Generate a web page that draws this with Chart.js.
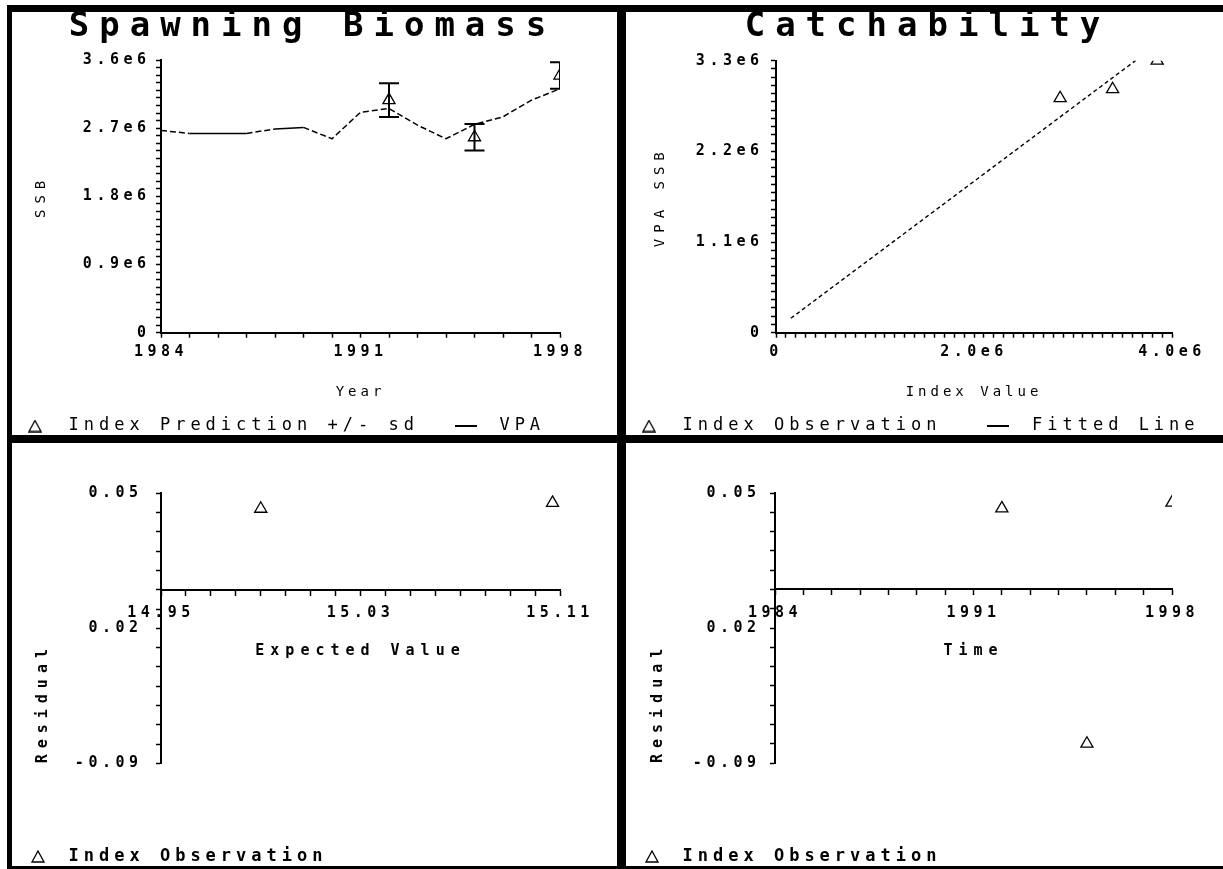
<!DOCTYPE html>
<html><head><meta charset="utf-8">
<script src="https://cdn.jsdelivr.net/npm/chart.js@4.4.1/dist/chart.umd.min.js"></script>
<style>
html,body{margin:0;padding:0;background:#fff;}
body{width:1223px;height:869px;position:relative;overflow:hidden;}
.bar{position:absolute;background:#000;}
canvas{position:absolute;}
</style></head><body>
<div class="bar" style="left:7px;top:5px;width:1216px;height:7px"></div>
<div class="bar" style="left:7px;top:5px;width:5px;height:864px"></div>
<div class="bar" style="left:617px;top:5px;width:9px;height:864px"></div>
<div class="bar" style="left:7px;top:435px;width:1216px;height:8px"></div>
<div class="bar" style="left:7px;top:866px;width:1216px;height:3px"></div>
<canvas id="cSSB" width="605" height="423" style="left:12px;top:12px"></canvas>
<canvas id="cQ" width="597" height="423" style="left:626px;top:12px"></canvas>
<canvas id="cResE" width="605" height="423" style="left:12px;top:443px"></canvas>
<canvas id="cResT" width="597" height="423" style="left:626px;top:443px"></canvas>
<script>
// ===== Data: Spawning Biomass =====
const ssbYears = [1984, 1985, 1986, 1987, 1988, 1989, 1990, 1991, 1992, 1993, 1994, 1995, 1996, 1997, 1998];
const ssbVPA = [2.67e6, 2.63e6, 2.63e6, 2.63e6, 2.69e6, 2.71e6, 2.56e6, 2.91e6, 2.96e6, 2.74e6, 2.56e6, 2.75e6, 2.85e6, 3.07e6, 3.22e6];
const indexYears = [1992, 1995, 1998];
const indexPrediction = [3.07e6, 2.58e6, 3.395e6];
const indexSd = [0.224e6, 0.176e6, 0.175e6];
const ssbYTicks = [0, 0.9e6, 1.8e6, 2.7e6, 3.6e6];
const ssbYTickLabels = ['0', '0.9e6', '1.8e6', '2.7e6', '3.6e6'];
const yearTicks = [1984, 1991, 1998];
const yearTickLabels = ['1984', '1991', '1998'];

// ===== Data: Catchability =====
const obsIndexValue = [2.87e6, 3.40e6, 3.85e6];
const obsVpaSSB = [2.845e6, 2.954e6, 3.30e6];
const fittedIndexValue = [0.15e6, 3.7e6];
const fittedVpaSSB = [0.175e6, 3.363e6];
const qXTicks = [0, 2.0e6, 4.0e6];
const qXTickLabels = ['0', '2.0e6', '4.0e6'];
const qYTicks = [0, 1.1e6, 2.2e6, 3.3e6];
const qYTickLabels = ['0', '1.1e6', '2.2e6', '3.3e6'];

// ===== Data: Residuals =====
const expectedValue = [14.99, 15.107];
const residualVsExpected = [0.042, 0.045];
const residualYears = [1992, 1995, 1998];
const residualVsTime = [0.042, -0.080, 0.045];
const expTicks = [14.95, 15.03, 15.11];
const expTickLabels = ['14.95', '15.03', '15.11'];
const residTicks = [0.05, -0.02, -0.09];
const residTickLabels = ['0.05', '0.02', '-0.09'];

// ===== Style / helpers =====
const FONT = '"DejaVu Sans Mono", "Liberation Mono", monospace';
Chart.defaults.color = '#000';
Chart.defaults.font.family = FONT;
const TICK_FONT = {family: FONT, size: 15, weight: 'bold', lineHeight: 1.2};
const LEG_FS = 17;

function minorTicks(majors, step) {
  const a = Math.min(...majors), b = Math.max(...majors);
  const n = Math.round((b - a) / step);
  const out = [];
  for (let i = 0; i <= n; i++) out.push(a + i * step);
  return out;
}
function labeler(majors, labels, step) {
  return v => {
    const k = majors.findIndex(m => Math.abs(m - v) < step / 100);
    return k < 0 ? '' : labels[k];
  };
}
function makeSymbol(kind) {
  const c = document.createElement('canvas');
  if (kind === 'tri') { c.width = 14; c.height = 13; } else { c.width = 22; c.height = 4; }
  const ctx = c.getContext('2d');
  ctx.strokeStyle = '#000'; ctx.fillStyle = '#000'; ctx.lineWidth = 1.3;
  if (kind === 'tri') {
    ctx.beginPath(); ctx.moveTo(7, 1); ctx.lineTo(13, 12); ctx.lineTo(1, 12); ctx.closePath(); ctx.stroke();
  } else {
    ctx.fillRect(0, 1, 22, 2);
  }
  return c;
}
const SYM = {tri: makeSymbol('tri'), line: makeSymbol('line')};

const LS = {
  cSSB: {tick: '4.5px', title: '10px', legend: '5px', axis: {x: '4px', y: '6px'}},
  cQ: {tick: '4.5px', title: '10px', legend: '5px', axis: {x: '4px', y: '6px'}},
  cResE: {tick: '4.5px', title: '0px', legend: '5px', axis: {x: '6px', y: '6px'}},
  cResT: {tick: '4.5px', title: '0px', legend: '5px', axis: {x: '6px', y: '6px'}}
};
function withLS(obj, name, ls) {
  if (!obj || !ls || obj['_ls_' + name]) return;
  const orig = obj[name];
  obj[name] = function () {
    const ctx = this.ctx;
    const prev = ctx.letterSpacing;
    ctx.letterSpacing = ls;
    try { return orig.apply(this, arguments); } finally { ctx.letterSpacing = prev; }
  };
  obj['_ls_' + name] = true;
}
const spacingPlugin = {
  id: 'spacing',
  afterInit(chart) {
    const s = LS[chart.canvas.id];
    withLS(chart.titleBlock, 'draw', s.title);
    withLS(chart.legend, 'fit', s.legend);
    withLS(chart.legend, 'draw', s.legend);
  },
  beforeUpdate(chart) { chart.ctx.letterSpacing = LS[chart.canvas.id].tick; },
  afterLayout(chart) {
    const s = LS[chart.canvas.id];
    for (const id in chart.scales) withLS(chart.scales[id], 'drawTitle', s.axis[id]);
  },
  beforeDraw(chart) { chart.ctx.letterSpacing = LS[chart.canvas.id].tick; }
};

const triPoint = {pointStyle: 'triangle', pointRadius: 7, pointBackgroundColor: 'rgba(0,0,0,0)',
  pointBorderColor: '#000', pointBorderWidth: 1.3, showLine: false, borderColor: '#000'};

function legendLabels(chart) {
  return chart.data.datasets.map((ds, i) => ds.legendSymbol ? {
    text: ds.label, pointStyle: SYM[ds.legendSymbol], datasetIndex: i, hidden: false,
    fillStyle: '#000', strokeStyle: '#000', lineWidth: 1, fontColor: '#000'
  } : null).filter(Boolean);
}

function buildChart(id, g, spec) {
  const W = g.w, H = g.h;
  const L = g.L - g.ox, R = g.R - g.ox, T = g.T - g.oy, B = g.B - g.oy;
  const FS = LEG_FS;
  const legBottom = (g.legY - g.oy) + 10 + FS / 2;
  let P, legTop;
  if (g.objX) { legTop = B; P = legBottom - legTop - FS - 10; }
  else { P = g.legP; legTop = legBottom - FS - P - 10; }
  const PL = (g.legSym - g.ox) - P - g.legBW / 2;
  const PR = g.PR;
  const PB = H - legBottom;
  const titleLH = 34;
  const PT = g.title ? 0 : T;
  const titlePadTop = g.title ? (g.titleY - g.oy) - titleLH / 2 : 0;
  const titlePadBottom = g.title ? T - titleLH - titlePadTop : 0;
  const yW = L - PL;
  const rW = W - PR - R;
  const axisLH = spec.axisFont.size * 1.2;
  const yTitlePadTop = (g.yTitleX - g.ox) - PL - axisLH / 2;
  const xMin = Math.min(...spec.x.major), xMax = Math.max(...spec.x.major);
  const yMin = Math.min(...spec.y.major), yMax = Math.max(...spec.y.major);
  let xH, xTitlePadBottom;
  if (g.objX) {
    const pix0 = T + (yMax - 0) / (yMax - yMin) * (B - T);
    xH = 0;
    xTitlePadBottom = pix0 - axisLH / 2 - (g.xTitleY - g.oy);
  } else {
    xH = legTop - B;
    xTitlePadBottom = legTop - axisLH / 2 - (g.xTitleY - g.oy);
  }
  const xTickVals = minorTicks(spec.x.major, spec.x.step);
  const yTickVals = minorTicks(spec.y.major, spec.y.step);
  const grid = {display: true, drawOnChartArea: false, drawTicks: true, tickLength: 5, tickColor: '#000', tickWidth: 1.5};
  const border = {display: true, color: '#000', width: 2};

  return new Chart(document.getElementById(id), {
    type: 'line',
    data: {datasets: spec.datasets},
    plugins: [spacingPlugin],
    options: {
      responsive: false, animation: false, events: [],
      layout: {padding: {left: PL, right: PR, top: PT, bottom: PB}},
      plugins: {
        tooltip: {enabled: false},
        title: {display: !!g.title, text: g.title || '', color: '#000',
          font: {family: FONT, size: 34, weight: 'bold', lineHeight: 1},
          padding: {top: titlePadTop, bottom: titlePadBottom}},
        legend: {display: true, position: 'bottom', align: 'start', fullSize: true,
          labels: {usePointStyle: true, pointStyleWidth: g.legBW, padding: P, color: '#000',
            font: {family: FONT, size: FS, weight: spec.legendWeight},
            generateLabels: legendLabels}}
      },
      scales: {
        x: {
          type: 'linear', min: xMin, max: xMax,
          position: g.objX ? {y: 0} : 'bottom',
          afterBuildTicks: s => { s.ticks = xTickVals.map(v => ({value: v})); },
          afterFit: s => { s.height = xH; s.paddingLeft = 0; s.paddingRight = 0; },
          ticks: {autoSkip: false, maxRotation: 0, minRotation: 0, padding: g.xTickPad, color: '#000',
            font: TICK_FONT, callback: labeler(spec.x.major, spec.x.labels, spec.x.step)},
          grid, border,
          title: {display: true, text: spec.x.title, color: '#000', font: spec.axisFont,
            padding: {top: 0, bottom: xTitlePadBottom}}
        },
        y: {
          type: 'linear', min: yMin, max: yMax, position: 'left',
          afterBuildTicks: s => { s.ticks = yTickVals.map(v => ({value: v})); },
          afterFit: s => { s.width = yW; s.paddingTop = 0; s.paddingBottom = 0; },
          ticks: {autoSkip: false, padding: g.yTickPad, color: '#000', font: TICK_FONT,
            callback: labeler(spec.y.major, spec.y.labels, spec.y.step)},
          grid, border,
          title: {display: true, text: spec.y.title, color: '#000', font: spec.axisFont,
            align: g.yTitleAlign || 'center', padding: {top: yTitlePadTop, bottom: 0}}
        },
        yr: {
          type: 'linear', position: 'right', display: true,
          grid: {display: false, drawTicks: false}, border: {display: false}, ticks: {display: false},
          afterFit: s => { s.width = rW; s.paddingTop = 0; s.paddingBottom = 0; }
        }
      }
    }
  });
}

const topAxisFont = {family: FONT, size: 14, weight: 'normal', lineHeight: 1.2};
const botAxisFont = {family: FONT, size: 15, weight: 'bold', lineHeight: 1.2};

// ---- Panel 1: Spawning Biomass ----
buildChart('cSSB',
  {ox: 12, oy: 12, w: 605, h: 423, L: 161, R: 560, T: 60, B: 332.7, title: 'Spawning Biomass', titleY: 27,
   legSym: 35, legY: 426, legBW: 50, legP: 22, PR: -20, xTitleY: 392, yTitleX: 41, xTickPad: 5.8, yTickPad: 5.5},
  {
    axisFont: topAxisFont, legendWeight: 'normal',
    x: {major: yearTicks, labels: yearTickLabels, step: 1, title: 'Year'},
    y: {major: ssbYTicks, labels: ssbYTickLabels, step: 0.1e6, title: 'SSB'},
    datasets: [
      Object.assign({label: 'Index Prediction +/- sd', legendSymbol: 'tri', yAxisID: 'y',
        data: indexYears.map((x, i) => ({x, y: indexPrediction[i]}))}, triPoint),
      {label: 'VPA', legendSymbol: 'line', yAxisID: 'y',
        data: ssbYears.map((x, i) => ({x, y: ssbVPA[i]})),
        showLine: true, borderColor: '#000', borderWidth: 1.5, pointRadius: 0,
        segment: {borderDash: c => Math.abs(c.p1.y - c.p0.y) > 3 ? [6, 3] : undefined}},
      ...indexYears.map((x, i) => ({label: 'sd', yAxisID: 'y',
        data: [{x, y: indexPrediction[i] - indexSd[i]}, {x, y: indexPrediction[i] + indexSd[i]}],
        showLine: true, borderColor: '#000', borderWidth: 2,
        pointStyle: 'line', pointRadius: 10, pointBorderColor: '#000', pointBorderWidth: 2}))
    ]
  });

// ---- Panel 2: Catchability ----
buildChart('cQ',
  {ox: 626, oy: 12, w: 597, h: 423, L: 776, R: 1172, T: 60.7, B: 332.7, title: 'Catchability', titleY: 27,
   legSym: 649, legY: 426, legBW: 50, legP: 32, PR: -40, xTitleY: 392, yTitleX: 660, xTickPad: 5.8, yTickPad: 7.5},
  {
    axisFont: topAxisFont, legendWeight: 'normal',
    x: {major: qXTicks, labels: qXTickLabels, step: 0.1e6, title: 'Index Value'},
    y: {major: qYTicks, labels: qYTickLabels, step: 0.1e6, title: 'VPA SSB'},
    datasets: [
      Object.assign({label: 'Index Observation', legendSymbol: 'tri', yAxisID: 'y',
        data: obsIndexValue.map((x, i) => ({x, y: obsVpaSSB[i]}))}, triPoint),
      {label: 'Fitted Line', legendSymbol: 'line', yAxisID: 'y',
        data: fittedIndexValue.map((x, i) => ({x, y: fittedVpaSSB[i]})),
        showLine: true, borderColor: '#000', borderWidth: 1.4, borderDash: [4, 3], pointRadius: 0}
    ]
  });

// ---- Panel 3: Residual vs Expected Value ----
buildChart('cResE',
  {ox: 12, oy: 443, w: 605, h: 423, L: 161, R: 560, T: 493.3, B: 763.3, objX: true,
   legSym: 38, legY: 856.5, legBW: 44, PR: -20, xTitleY: 651, yTitleX: 43.5, yTitleAlign: 'start',
   xTickPad: 9.2, yTickPad: 13.5},
  {
    axisFont: botAxisFont, legendWeight: 'bold',
    x: {major: expTicks, labels: expTickLabels, step: 0.01, title: 'Expected Value'},
    y: {major: residTicks, labels: residTickLabels, step: 0.01, title: 'Residual'},
    datasets: [
      Object.assign({label: 'Index Observation', legendSymbol: 'tri', yAxisID: 'y',
        data: expectedValue.map((x, i) => ({x, y: residualVsExpected[i]}))}, triPoint)
    ]
  });

// ---- Panel 4: Residual vs Time ----
buildChart('cResT',
  {ox: 626, oy: 443, w: 597, h: 423, L: 775, R: 1172, T: 493, B: 763, objX: true,
   legSym: 652, legY: 856.5, legBW: 44, PR: -20, xTitleY: 651, yTitleX: 658, yTitleAlign: 'start',
   xTickPad: 9.2, yTickPad: 9.5},
  {
    axisFont: botAxisFont, legendWeight: 'bold',
    x: {major: yearTicks, labels: yearTickLabels, step: 1, title: 'Time'},
    y: {major: residTicks, labels: residTickLabels, step: 0.01, title: 'Residual'},
    datasets: [
      Object.assign({label: 'Index Observation', legendSymbol: 'tri', yAxisID: 'y',
        data: residualYears.map((x, i) => ({x, y: residualVsTime[i]}))}, triPoint)
    ]
  });
</script>
</body></html>
